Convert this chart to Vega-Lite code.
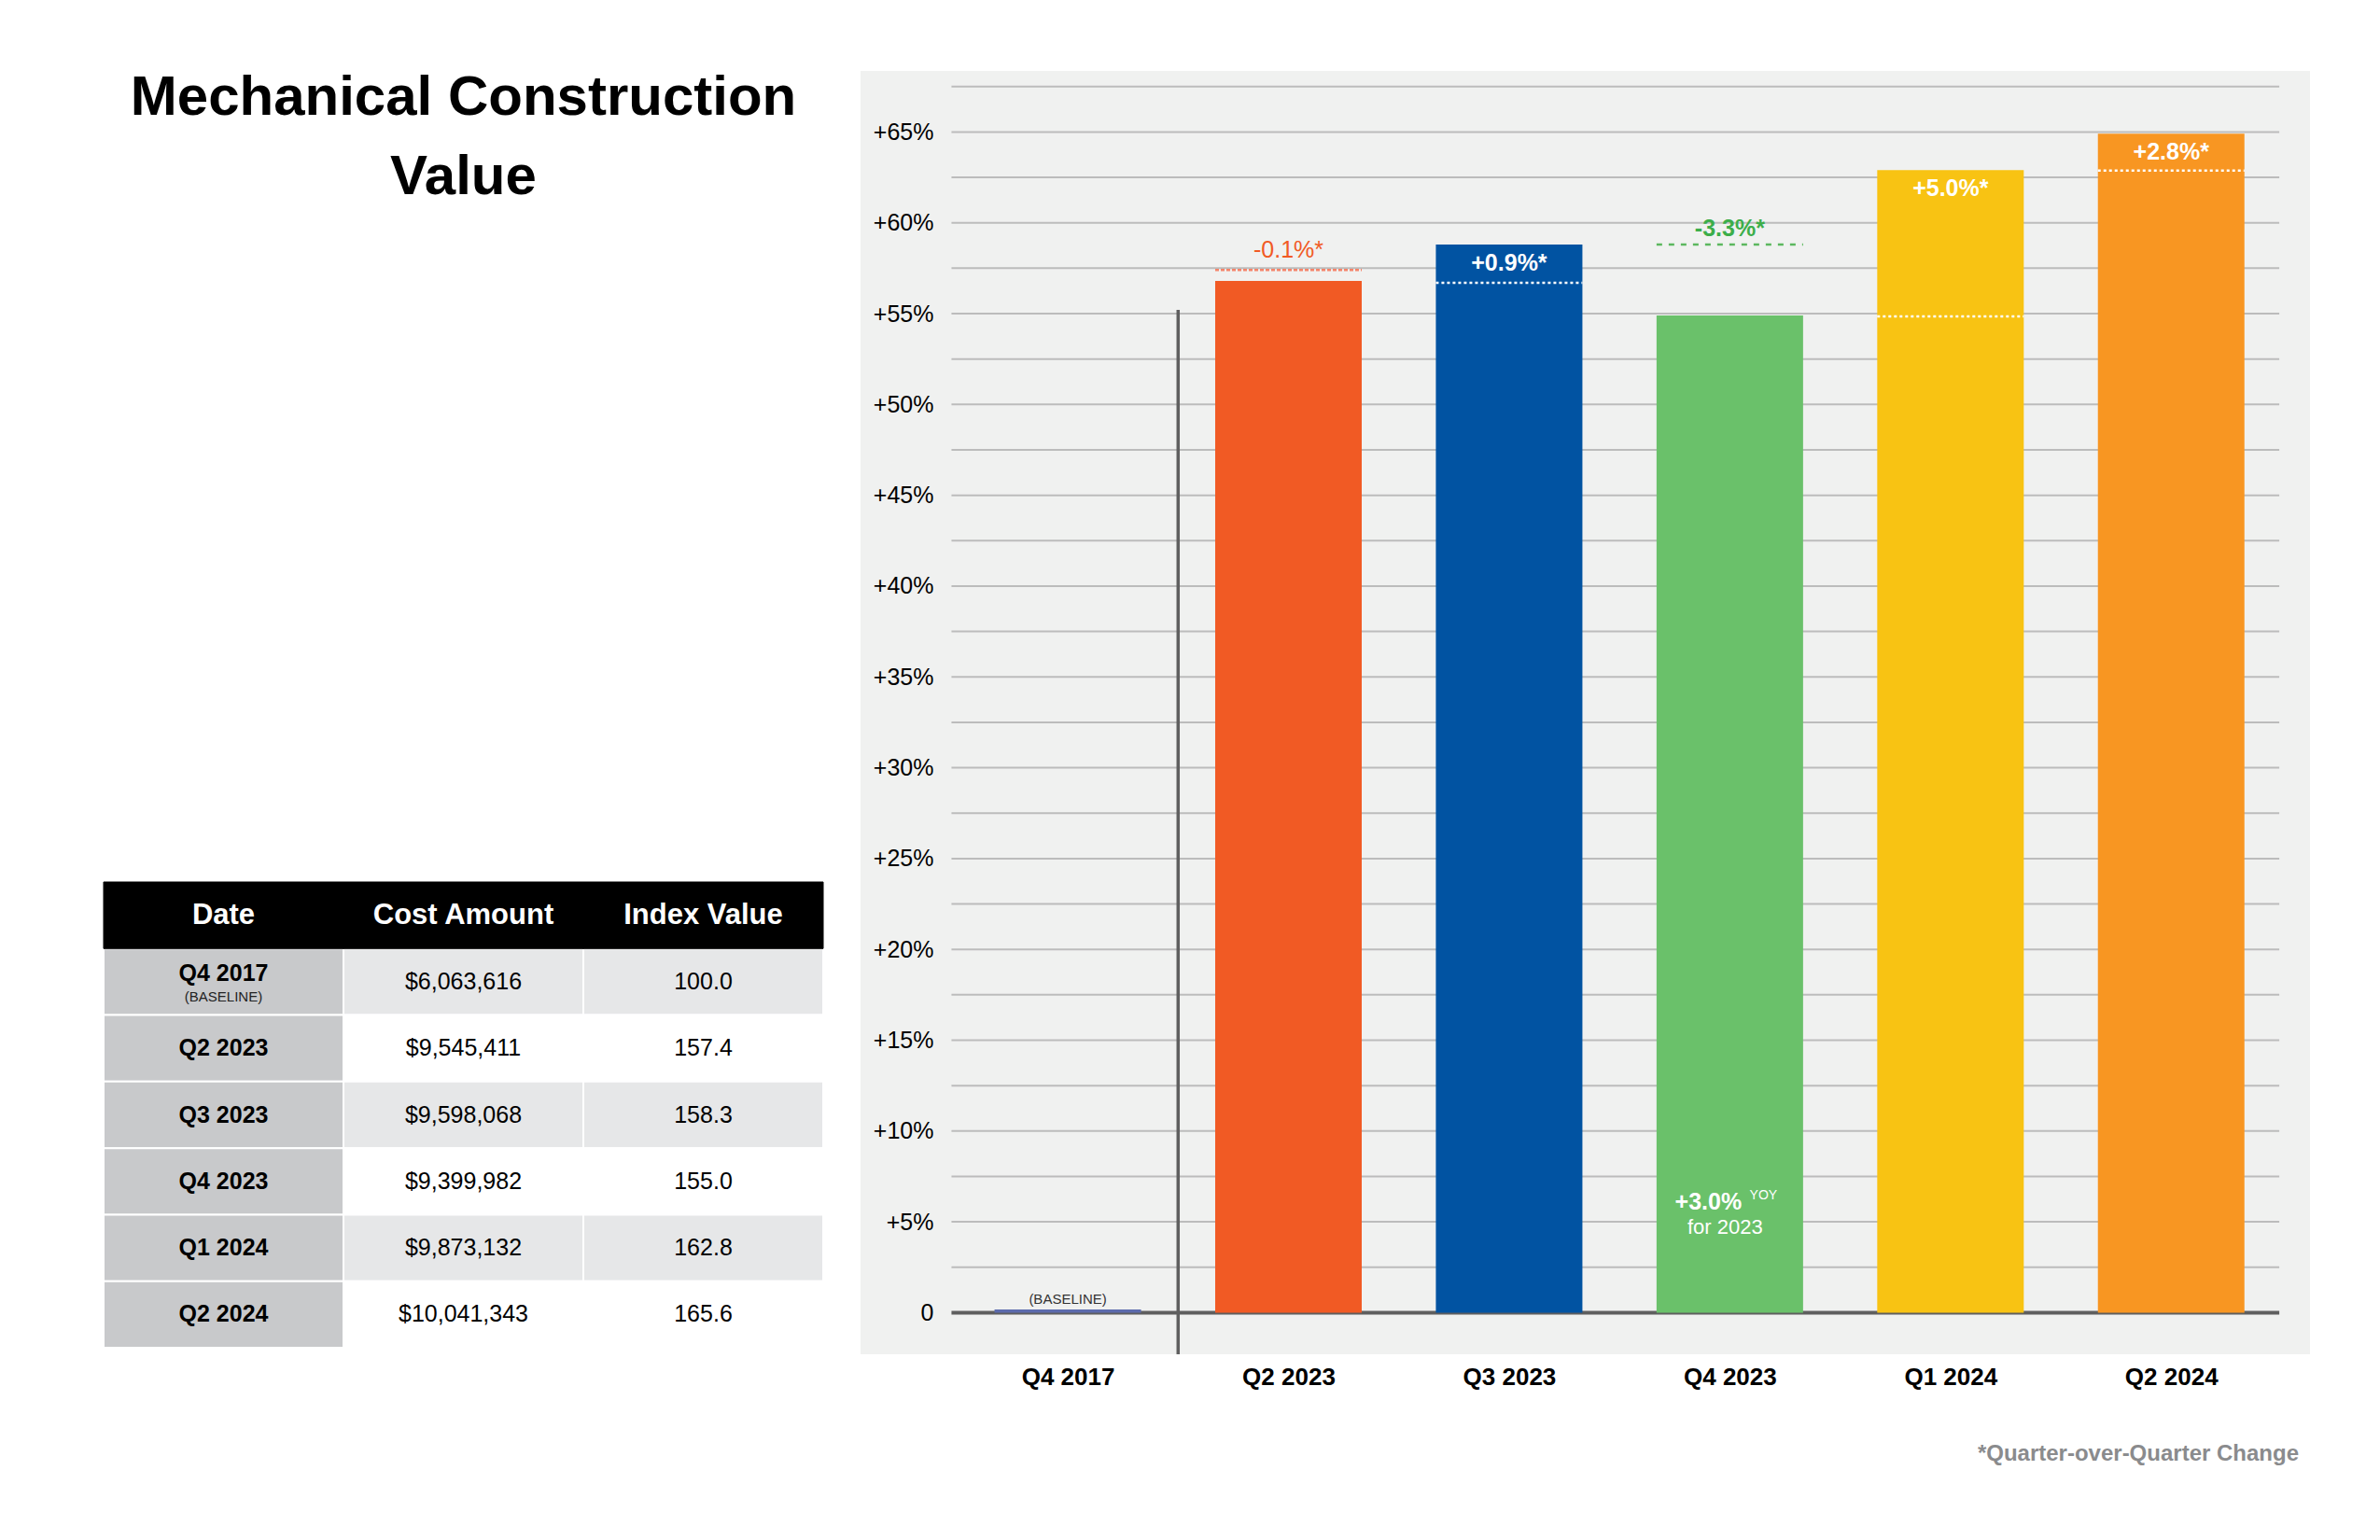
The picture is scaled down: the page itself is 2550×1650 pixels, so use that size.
{
  "$schema": "https://vega.github.io/schema/vega-lite/v6.json",
  "background": "white",
  "padding": {"left": 110, "top": 75, "right": 0, "bottom": 0},
  "config": {
    "view": {"stroke": null},
    "font": "Liberation Sans",
    "axis": {"domain": false, "ticks": false, "grid": false, "labelFont": "Liberation Sans", "labelColor": "#000000"},
    "text": {"font": "Liberation Sans"},
    "title": {"font": "Liberation Sans"}
  },
  "datasets": {
    "table": [
      {"Date": "Q4 2017", "note": "(BASELINE)", "Cost Amount": "$6,063,616", "Index Value": "100.0"},
      {"Date": "Q2 2023", "note": "", "Cost Amount": "$9,545,411", "Index Value": "157.4"},
      {"Date": "Q3 2023", "note": "", "Cost Amount": "$9,598,068", "Index Value": "158.3"},
      {"Date": "Q4 2023", "note": "", "Cost Amount": "$9,399,982", "Index Value": "155.0"},
      {"Date": "Q1 2024", "note": "", "Cost Amount": "$9,873,132", "Index Value": "162.8"},
      {"Date": "Q2 2024", "note": "", "Cost Amount": "$10,041,343", "Index Value": "165.6"}
    ],
    "headers": [
      {"col": "Date", "row": "header"},
      {"col": "Cost Amount", "row": "header"},
      {"col": "Index Value", "row": "header"}
    ],
    "bars": [
      {"quarter": "Q4 2017", "i": 0, "value": 0.18, "prev": null, "label": ""},
      {"quarter": "Q2 2023", "i": 1, "value": 56.8, "prev": 57.4, "label": "-0.1%*"},
      {"quarter": "Q3 2023", "i": 2, "value": 58.8, "prev": 56.7, "label": "+0.9%*"},
      {"quarter": "Q4 2023", "i": 3, "value": 54.9, "prev": 58.8, "label": "-3.3%*"},
      {"quarter": "Q1 2024", "i": 4, "value": 62.9, "prev": 54.85, "label": "+5.0%*"},
      {"quarter": "Q2 2024", "i": 5, "value": 64.9, "prev": 62.87, "label": "+2.8%*"}
    ],
    "grid": [
      {"v": 2.5}, {"v": 5}, {"v": 7.5}, {"v": 10}, {"v": 12.5}, {"v": 15}, {"v": 17.5}, {"v": 20}, {"v": 22.5},
      {"v": 25}, {"v": 27.5}, {"v": 30}, {"v": 32.5}, {"v": 35}, {"v": 37.5}, {"v": 40}, {"v": 42.5}, {"v": 45},
      {"v": 47.5}, {"v": 50}, {"v": 52.5}, {"v": 55}, {"v": 57.5}, {"v": 60}, {"v": 62.5}, {"v": 65}, {"v": 67.5}
    ]
  },
  "spacing": 39,
  "hconcat": [
    {
      "spacing": 724,
      "vconcat": [
        {
          "width": 771,
          "height": 58,
          "data": {"values": [{}]},
          "mark": {"type": "text", "fontSize": 60, "fontWeight": "bold", "lineHeight": 85, "baseline": "middle", "align": "center", "color": "#000000"},
          "encoding": {"text": {"value": ["Mechanical Construction", "Value"]}}
        },
        {
          "width": 771,
          "height": 499,
          "layer": [
            {
              "data": {"name": "table"},
              "transform": [{"fold": ["Date", "Cost Amount", "Index Value"], "as": ["key", "cell"]}],
              "mark": {"type": "rect", "stroke": "#ffffff", "strokeWidth": 2},
              "encoding": {
                "x": {"field": "key", "type": "nominal", "scale": {"domain": ["Date", "Cost Amount", "Index Value"], "paddingInner": 0, "paddingOuter": 0}, "axis": null},
                "y": {"field": "Date", "type": "nominal", "scale": {"domain": ["header", "Q4 2017", "Q2 2023", "Q3 2023", "Q4 2023", "Q1 2024", "Q2 2024"], "paddingInner": 0, "paddingOuter": 0}, "axis": null},
                "fill": {
                  "condition": [
                    {"test": "datum.key === 'Date'", "value": "#c8c9cb"},
                    {"test": "datum.Date === 'Q4 2017' || datum.Date === 'Q3 2023' || datum.Date === 'Q1 2024'", "value": "#e6e7e8"}
                  ],
                  "value": "#ffffff"
                }
              }
            },
            {
              "data": {"name": "headers"},
              "mark": {"type": "rect", "fill": "#000000", "stroke": "#000000", "strokeWidth": 1},
              "encoding": {
                "x": {"field": "col", "type": "nominal", "axis": null},
                "y": {"field": "row", "type": "nominal", "axis": null}
              }
            },
            {
              "data": {"name": "headers"},
              "mark": {"type": "text", "color": "#ffffff", "fontSize": 31, "fontWeight": "bold", "baseline": "middle"},
              "encoding": {
                "x": {"field": "col", "type": "nominal", "axis": null},
                "y": {"field": "row", "type": "nominal", "axis": null},
                "text": {"field": "col"}
              }
            },
            {
              "data": {"name": "table"},
              "transform": [{"fold": ["Date", "Cost Amount", "Index Value"], "as": ["key", "cell"]}, {"filter": "datum.key === 'Date' && datum.Date !== 'Q4 2017'"}],
              "mark": {"type": "text", "color": "#000000", "fontSize": 25, "fontWeight": "bold", "baseline": "middle"},
              "encoding": {
                "x": {"field": "key", "type": "nominal", "axis": null},
                "y": {"field": "Date", "type": "nominal", "axis": null},
                "text": {"field": "cell"}
              }
            },
            {
              "data": {"name": "table"},
              "transform": [{"fold": ["Date", "Cost Amount", "Index Value"], "as": ["key", "cell"]}, {"filter": "datum.key === 'Date' && datum.Date === 'Q4 2017'"}],
              "mark": {"type": "text", "color": "#000000", "fontSize": 25, "fontWeight": "bold", "baseline": "middle", "dy": -9},
              "encoding": {
                "x": {"field": "key", "type": "nominal", "axis": null},
                "y": {"field": "Date", "type": "nominal", "axis": null},
                "text": {"field": "cell"}
              }
            },
            {
              "data": {"name": "table"},
              "transform": [{"fold": ["Date", "Cost Amount", "Index Value"], "as": ["key", "cell"]}, {"filter": "datum.key === 'Date' && datum.Date === 'Q4 2017'"}],
              "mark": {"type": "text", "color": "#222222", "fontSize": 15, "baseline": "middle", "dy": 16},
              "encoding": {
                "x": {"field": "key", "type": "nominal", "axis": null},
                "y": {"field": "Date", "type": "nominal", "axis": null},
                "text": {"field": "note"}
              }
            },
            {
              "data": {"name": "table"},
              "transform": [{"fold": ["Date", "Cost Amount", "Index Value"], "as": ["key", "cell"]}, {"filter": "datum.key !== 'Date'"}],
              "mark": {"type": "text", "color": "#000000", "fontSize": 25, "baseline": "middle"},
              "encoding": {
                "x": {"field": "key", "type": "nominal", "axis": null},
                "y": {"field": "Date", "type": "nominal", "axis": null},
                "text": {"field": "cell"}
              }
            }
          ]
        }
      ]
    },
    {
      "width": 1553,
      "height": 1375,
      "view": {"fill": "#f0f1f0", "stroke": null},
      "title": {"text": "*Quarter-over-Quarter Change", "orient": "bottom", "anchor": "end", "fontSize": 24, "fontWeight": "bold", "color": "#8a8b8d", "offset": 58, "dx": -12},
      "data": {"name": "bars"},
      "layer": [
        {
          "data": {"name": "grid"},
          "mark": {"type": "rule", "color": "#bcbcbc", "strokeWidth": 2},
          "encoding": {
            "y": {"field": "v", "type": "quantitative", "title": null},
            "x": {"datum": -0.527},
            "x2": {"datum": 5.49}
          }
        },
        {
          "data": {"values": [{}]},
          "mark": {"type": "rule", "color": "#5f5f5f", "strokeWidth": 4},
          "encoding": {
            "y": {"datum": 0},
            "x": {"datum": -0.527},
            "x2": {"datum": 5.49}
          }
        },
        {
          "data": {"values": [{}]},
          "mark": {"type": "rule", "color": "#5f5f5f", "strokeWidth": 3.5},
          "encoding": {
            "x": {"datum": 0.5},
            "y": {"datum": 55.2},
            "y2": {"datum": -2.29}
          }
        },
        {
          "mark": {"type": "bar", "width": 157},
          "encoding": {
            "x": {
              "field": "i", "type": "quantitative",
              "scale": {"domain": [-0.918, 5.608], "nice": false, "zero": false},
              "axis": {"values": [0, 1, 2, 3, 4, 5], "labelExpr": "['Q4 2017','Q2 2023','Q3 2023','Q4 2023','Q1 2024','Q2 2024'][datum.value]", "labelFontSize": 26, "labelFontWeight": "bold", "labelPadding": 11, "title": null}
            },
            "y": {
              "field": "value", "type": "quantitative",
              "scale": {"domain": [-2.29, 68.36], "nice": false, "zero": false},
              "axis": {"values": [0, 5, 10, 15, 20, 25, 30, 35, 40, 45, 50, 55, 60, 65], "labelExpr": "datum.value === 0 ? '0' : '+' + datum.value + '%'", "offset": -93, "labelPadding": 15, "labelFontSize": 25, "title": null}
            },
            "y2": {"datum": 0},
            "color": {
              "field": "quarter", "type": "nominal",
              "scale": {"domain": ["Q4 2017", "Q2 2023", "Q3 2023", "Q4 2023", "Q1 2024", "Q2 2024"], "range": ["#5c6bad", "#f15a24", "#0153a2", "#6ac16a", "#f8c313", "#f89622"]},
              "legend": null
            }
          }
        },
        {
          "transform": [{"filter": "datum.quarter === 'Q2 2023'"}],
          "mark": {"type": "rule", "color": "#f4846a", "strokeWidth": 2.5, "strokeDash": [4, 2], "xOffset": -78.5, "x2Offset": 78.5},
          "encoding": {
            "x": {"field": "i", "type": "quantitative"},
            "x2": {"field": "i"},
            "y": {"field": "prev", "type": "quantitative"}
          }
        },
        {
          "transform": [{"filter": "datum.quarter === 'Q4 2023'"}],
          "mark": {"type": "rule", "color": "#5cb85f", "strokeWidth": 2.5, "strokeDash": [6, 7], "xOffset": -78.5, "x2Offset": 78.5},
          "encoding": {
            "x": {"field": "i", "type": "quantitative"},
            "x2": {"field": "i"},
            "y": {"field": "prev", "type": "quantitative"}
          }
        },
        {
          "transform": [{"filter": "datum.quarter === 'Q3 2023' || datum.quarter === 'Q1 2024' || datum.quarter === 'Q2 2024'"}],
          "mark": {"type": "rule", "color": "#ffffff", "strokeWidth": 2.5, "strokeDash": [3, 3], "xOffset": -78.5, "x2Offset": 78.5},
          "encoding": {
            "x": {"field": "i", "type": "quantitative"},
            "x2": {"field": "i"},
            "y": {"field": "prev", "type": "quantitative"}
          }
        },
        {
          "transform": [{"filter": "datum.quarter === 'Q2 2023'"}],
          "mark": {"type": "text", "fontSize": 25, "baseline": "middle", "dy": -21, "color": "#f15a24"},
          "encoding": {
            "x": {"field": "i", "type": "quantitative"},
            "y": {"field": "prev", "type": "quantitative"},
            "text": {"field": "label"}
          }
        },
        {
          "transform": [{"filter": "datum.quarter === 'Q4 2023'"}],
          "mark": {"type": "text", "fontSize": 25, "fontWeight": "bold", "baseline": "middle", "dy": -17, "color": "#3cae4a"},
          "encoding": {
            "x": {"field": "i", "type": "quantitative"},
            "y": {"field": "prev", "type": "quantitative"},
            "text": {"field": "label"}
          }
        },
        {
          "transform": [{"filter": "datum.quarter === 'Q3 2023' || datum.quarter === 'Q1 2024' || datum.quarter === 'Q2 2024'"}],
          "mark": {"type": "text", "fontSize": 25, "fontWeight": "bold", "baseline": "middle", "dy": 20, "color": "#ffffff"},
          "encoding": {
            "x": {"field": "i", "type": "quantitative"},
            "y": {"field": "value", "type": "quantitative"},
            "text": {"field": "label"}
          }
        },
        {
          "data": {"values": [{}]},
          "mark": {"type": "text", "fontSize": 15, "baseline": "middle", "dy": -14, "color": "#333333"},
          "encoding": {"x": {"datum": 0}, "y": {"datum": 0}, "text": {"value": "(BASELINE)"}}
        },
        {
          "data": {"values": [{}]},
          "mark": {"type": "text", "fontSize": 25, "fontWeight": "bold", "baseline": "middle", "dx": -23, "color": "#ffffff"},
          "encoding": {"x": {"datum": 3}, "y": {"datum": 6.1}, "text": {"value": "+3.0%"}}
        },
        {
          "data": {"values": [{}]},
          "mark": {"type": "text", "fontSize": 14, "baseline": "middle", "dx": 36, "color": "#ffffff"},
          "encoding": {"x": {"datum": 3}, "y": {"datum": 6.45}, "text": {"value": "YOY"}}
        },
        {
          "data": {"values": [{}]},
          "mark": {"type": "text", "fontSize": 22, "baseline": "middle", "dx": -5, "color": "#ffffff"},
          "encoding": {"x": {"datum": 3}, "y": {"datum": 4.7}, "text": {"value": "for 2023"}}
        }
      ]
    }
  ]
}
